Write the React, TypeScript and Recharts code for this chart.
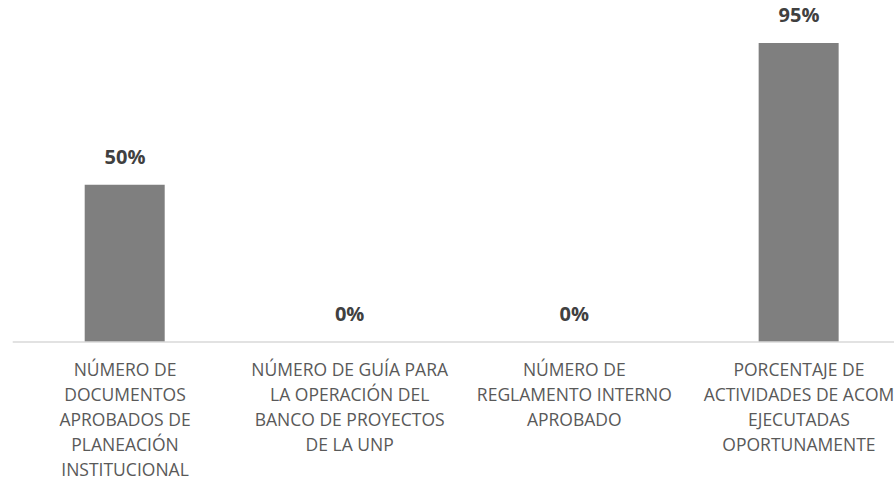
import { ComposedChart, Bar, Line, XAxis, YAxis, LabelList } from "recharts"

const categories = [
    "NÚMERO DE|DOCUMENTOS|APROBADOS DE|PLANEACIÓN|INSTITUCIONAL",
    "NÚMERO DE GUÍA PARA|LA OPERACIÓN DEL|BANCO DE PROYECTOS|DE LA UNP",
    "NÚMERO DE|REGLAMENTO INTERNO|APROBADO",
    "PORCENTAJE DE|ACTIVIDADES DE ACOM|EJECUTADAS|OPORTUNAMENTE",
]
const values = [50, 0, 0, 95]

const chartData = categories.map((name, i) => ({ name, value: values[i] }))

const FONT = "'Open Sans', sans-serif"

function CategoryTick({ x, y, payload }: any) {
    const lines = String(payload.value).split("|")
    return (
        <text x={x} y={y} textAnchor="middle" fill="#595959" fontSize={17.5} fontFamily={FONT}>
            {lines.map((line, i) => (
                <tspan key={i} x={x} dy={i === 0 ? 34 : 25}>
                    {line}
                </tspan>
            ))}
        </text>
    )
}

export default function App() {
    return (
        <div
            style={{
                position: "fixed",
                left: 0,
                top: 0,
                width: 894,
                height: 483,
                overflow: "hidden",
                background: "#fff",
            }}
        >
            <ComposedChart
                width={920}
                height={483}
                data={chartData}
                margin={{ top: 27.3, right: 8.7, left: 12.7, bottom: 0 }}
            >
                <XAxis
                    dataKey="name"
                    height={141}
                    interval={0}
                    tickLine={false}
                    tickSize={0}
                    tickMargin={0}
                    axisLine={{ stroke: "#d9d9d9", strokeWidth: 1.5 }}
                    tick={<CategoryTick />}
                />
                <YAxis hide domain={[0, 100]} />
                <Bar dataKey="value" fill="#7f7f7f" barSize={80} isAnimationActive={false} />
                {/* invisible series so that 0% values still get a label */}
                <Line
                    dataKey="value"
                    stroke="none"
                    dot={false}
                    activeDot={false}
                    legendType="none"
                    isAnimationActive={false}
                >
                    <LabelList
                        dataKey="value"
                        position="top"
                        offset={21}
                        formatter={(v: any) => `${v}%`}
                        style={{ fill: "#404040", fontSize: 20, fontWeight: 700, fontFamily: FONT }}
                    />
                </Line>
            </ComposedChart>
        </div>
    )
}
